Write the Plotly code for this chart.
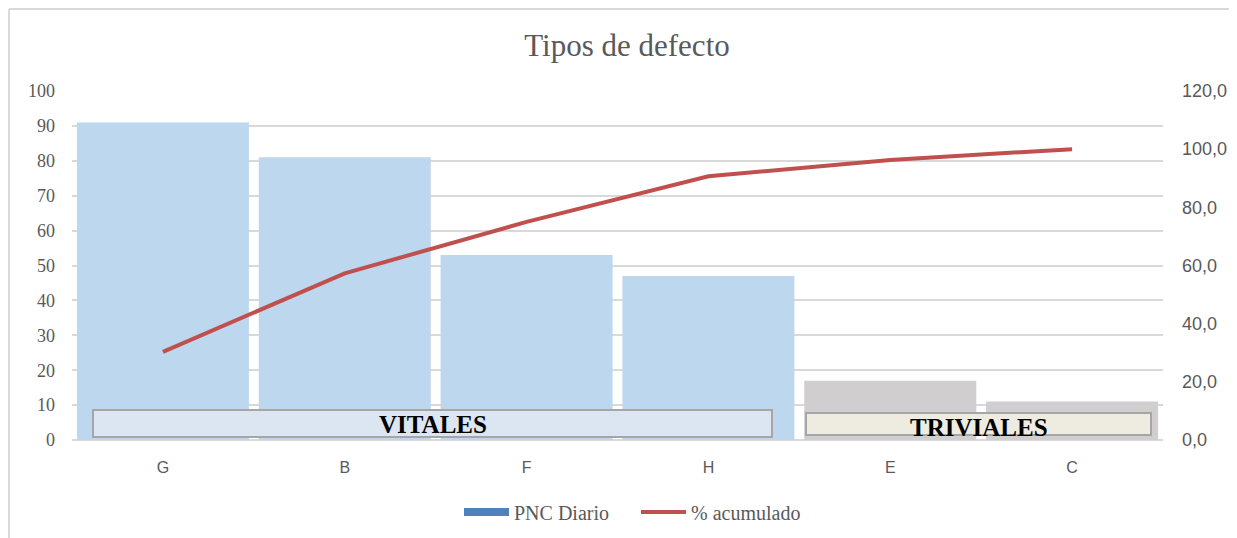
import plotly.graph_objects as go

categories = ["G", "B", "F", "H", "E", "C"]
pnc_diario = [91, 81, 53, 47, 17, 11]
pct_acumulado = [30.3, 57.3, 75.0, 90.7, 96.3, 100.0]
bar_colors = ["#BDD7EE", "#BDD7EE", "#BDD7EE", "#BDD7EE", "#D0CECE", "#D0CECE"]
left_ticks = [0, 10, 20, 30, 40, 50, 60, 70, 80, 90, 100]
right_ticks = [0, 20, 40, 60, 80, 100, 120]
right_labels = ["0,0", "20,0", "40,0", "60,0", "80,0", "100,0", "120,0"]

OFF = 8  # default page body margin
W, H = 1237 - OFF, 538 - OFF
# plot area in reference (window) pixels
XL, XR, YT, YB = 72, 1163, 91, 440
L, T = XL - OFF, YT - OFF
R, B = W - (XR - OFF), H - (YB - OFF)
pw, ph = XR - XL, YB - YT

def px(x):
    return (x - XL) / pw

def py(y):
    return (YB - y) / ph

fig = go.Figure()
fig.add_trace(go.Bar(x=categories, y=pnc_diario, marker=dict(color=bar_colors, line=dict(width=0)),
                     showlegend=False, name="PNC Diario", width=0.946))
fig.add_trace(go.Scatter(x=[None], y=[None], mode="lines", name="PNC Diario",
                         line=dict(color="#4F81BD", width=8)))
fig.add_trace(go.Scatter(x=categories, y=pct_acumulado, mode="lines", name="% acumulado",
                         line=dict(color="#C0504D", width=4), yaxis="y2"))

shapes = [
    dict(type="line", xref="paper", yref="paper", x0=px(9), x1=px(1237), y0=py(9), y1=py(9),
         line=dict(color="#D9D9D9", width=2)),
    dict(type="line", xref="paper", yref="paper", x0=px(9), x1=px(9), y0=py(9), y1=py(538),
         line=dict(color="#D9D9D9", width=2)),
    dict(type="rect", xref="paper", yref="paper", x0=px(93), x1=px(772), y0=py(437), y1=py(410),
         fillcolor="#DCE6F2", line=dict(color="#A6A6A6", width=2), layer="above"),
    dict(type="rect", xref="paper", yref="paper", x0=px(806), x1=px(1151), y0=py(435), y1=py(413),
         fillcolor="#EEECE1", line=dict(color="#A6A6A6", width=2), layer="above"),
]

annotations = [
    dict(text="<b>VITALES</b>", xref="paper", yref="paper", x=px(433), y=py(424), showarrow=False,
         font=dict(family="Liberation Serif", size=25, color="#000000"), xanchor="center", yanchor="middle"),
    dict(text="<b>TRIVIALES</b>", xref="paper", yref="paper", x=px(979), y=py(427), showarrow=False,
         font=dict(family="Liberation Serif", size=25, color="#000000"), xanchor="center", yanchor="middle"),
]

fig.update_layout(
    width=W, height=H,
    margin=dict(l=L, r=R, t=T, b=B, autoexpand=False),
    paper_bgcolor="white", plot_bgcolor="white",
    title=dict(text="Tipos de defecto", x=px(627), xref="paper", xanchor="center",
               y=1 - (45 - OFF) / H, yanchor="middle",
               font=dict(family="Liberation Serif", size=31, color="#595959")),
    bargap=0.054,
    xaxis=dict(type="category", tickfont=dict(family="Liberation Sans", size=16, color="#595959"),
               showgrid=False, showline=False, ticks="", zeroline=False, ticklabelstandoff=16),
    yaxis=dict(range=[0, 100], tickvals=left_ticks, showgrid=True, gridcolor="#D9D9D9", gridwidth=1.5,
               tickfont=dict(family="Liberation Serif", size=18, color="#595959"),
               zeroline=True, zerolinecolor="#D9D9D9", zerolinewidth=2, ticks="", showline=False,
               ticklabelstandoff=16),
    yaxis2=dict(range=[0, 120], tickvals=right_ticks, ticktext=right_labels, overlaying="y", side="right",
                showgrid=False, zeroline=False, showline=False, ticks="",
                tickfont=dict(family="Liberation Sans", size=18, color="#595959"), ticklabelstandoff=18),
    legend=dict(orientation="h", x=px(459), xanchor="left", y=py(512), yanchor="middle",
                font=dict(family="Liberation Serif", size=20, color="#595959"), itemwidth=45,
                entrywidth=117, entrywidthmode="pixels", traceorder="normal"),
    shapes=shapes, annotations=annotations,
)

fig.write_html("out.html")
